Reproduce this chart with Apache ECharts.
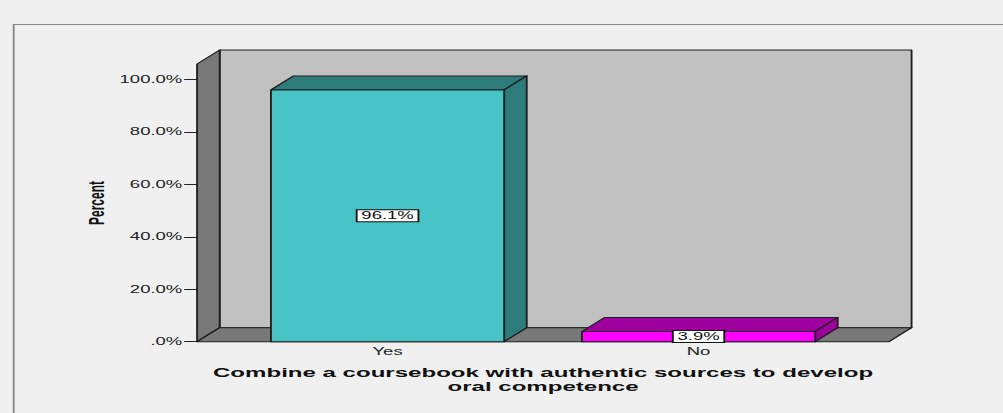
<!DOCTYPE html>
<html>
<head>
<meta charset="utf-8">
<script src="https://cdn.jsdelivr.net/npm/echarts@6/dist/echarts.min.js"></script>
<style>
  html,body{margin:0;padding:0;background:#f0f0f0;overflow:hidden;}
  /* the SPSS picture is stretched sideways, so draw narrow and stretch the same way */
  #main{width:542px;height:413px;transform:scaleX(1.85055);transform-origin:0 0;}
</style>
</head>
<body>
<div id="main"></div>
<script>
// data
const categories = ["Yes", "No"];
const percents = [96.1, 3.9];
const frontColors = ["#48c3c6", "#ff00ff"];
const shadeColors = ["#2e7b7c", "#9e009e"];
const yTickStep = 20;
const yMax = 100;

const FONT = "'Liberation Sans', Arial, sans-serif";
const DX = 12.2, DY = 14;   // depth of the 3d box
const EXT = 18.9;           // floor reaches past the category band
const WALL_TOP = 106;       // wall height in axis units
const EDGE = "#1e1e1e";

const chart = echarts.init(document.getElementById("main"), null, {renderer: "svg"});

function wallsItem(params, api){
	const cs = params.coordSys;
	const x0 = cs.x - EXT, x1 = cs.x + cs.width + EXT;
	const yb = cs.y + cs.height;
	const yt = api.coord([0, WALL_TOP])[1];
	const edge = {stroke: EDGE, lineWidth: 1, lineJoin: "round"};
	return {
		type: "group",
		children: [
			{type: "rect", shape: {x: x0 + DX, y: yt - DY, width: x1 - x0, height: yb - yt},
			 style: Object.assign({fill: "#c0c0c0"}, edge)},
			{type: "polygon", shape: {points: [[x0, yb], [x0, yt], [x0 + DX, yt - DY], [x0 + DX, yb - DY]]},
			 style: Object.assign({fill: "#787878"}, edge)},
			{type: "polygon", shape: {points: [[x0, yb], [x1, yb], [x1 + DX, yb - DY], [x0 + DX, yb - DY]]},
			 style: Object.assign({fill: "#787878"}, edge)}
		]
	};
}

function barItem(params, api){
	const idx = api.value(0), val = api.value(1);
	const base = api.coord([idx, 0]);
	const top = api.coord([idx, val]);
	const w = api.size([1, 0])[0] * 0.75;
	const xl = base[0] - w / 2, xr = xl + w;
	const yb = base[1], yt = top[1];
	const edge = {stroke: EDGE, lineWidth: 1, lineJoin: "round"};
	const i = params.dataIndex;
	return {
		type: "group",
		children: [
			{type: "polygon", shape: {points: [[xl, yt], [xr, yt], [xr + DX, yt - DY], [xl + DX, yt - DY]]},
			 style: Object.assign({fill: shadeColors[i]}, edge)},
			{type: "polygon", shape: {points: [[xr, yt], [xr + DX, yt - DY], [xr + DX, yb - DY], [xr, yb]]},
			 style: Object.assign({fill: shadeColors[i]}, edge)},
			{type: "rect", shape: {x: xl, y: yt, width: w, height: yb - yt},
			 style: Object.assign({fill: frontColors[i]}, edge)},
			{type: "text", x: base[0], y: (yt + yb) / 2,
			 style: {text: val.toFixed(1) + "%", fill: "#111", font: "10px " + FONT,
			         align: "center", verticalAlign: "middle",
			         backgroundColor: "#fff", borderColor: "#111", borderWidth: 1, padding: [1, 2, 0, 2]}}
		]
	};
}

chart.setOption({
	backgroundColor: "#f0f0f0",
	animation: false,
	grid: {left: 125.4, right: 80.5, top: 79.7, bottom: 71.3},
	xAxis: {
		type: "category",
		data: categories,
		boundaryGap: true,
		axisLine: {show: false},
		axisTick: {alignWithLabel: true, length: 5, lineStyle: {color: "#222"}},
		axisLabel: {margin: 5, fontSize: 10, color: "#222", fontFamily: FONT},
		name: "Combine a coursebook with authentic sources to develop\noral competence",
		nameLocation: "middle",
		nameGap: 24,
		nameTextStyle: {fontSize: 13, fontWeight: "bold", color: "#111", fontFamily: FONT, lineHeight: 14}
	},
	yAxis: {
		type: "value",
		min: 0,
		max: yMax,
		interval: yTickStep,
		offset: EXT,
		splitLine: {show: false},
		axisLine: {show: false},
		axisTick: {show: true, length: 7, lineStyle: {color: "#222"}},
		axisLabel: {margin: 8, fontSize: 10, color: "#222", fontFamily: FONT,
		            formatter: v => v === 0 ? ".0%" : v.toFixed(1) + "%"}
	},
	graphic: [
		{type: "rect", left: 4.9, top: 22, shape: {width: 700, height: 500}, silent: true, z: -10,
		 style: {fill: "none", stroke: "#888", lineWidth: 1}},
		{type: "text", x: 52.4, y: 203, rotation: Math.PI / 2, silent: true,
		 style: {text: "Percent", font: "bold 12px " + FONT, fill: "#111", align: "center", verticalAlign: "middle"}}
	],
	series: [
		{type: "custom", z: 1, renderItem: wallsItem, data: [[0, 0]], silent: true},
		{type: "custom", z: 2, renderItem: barItem,
		 data: categories.map((c, i) => [i, percents[i]])}
	]
});
</script>
</body>
</html>
